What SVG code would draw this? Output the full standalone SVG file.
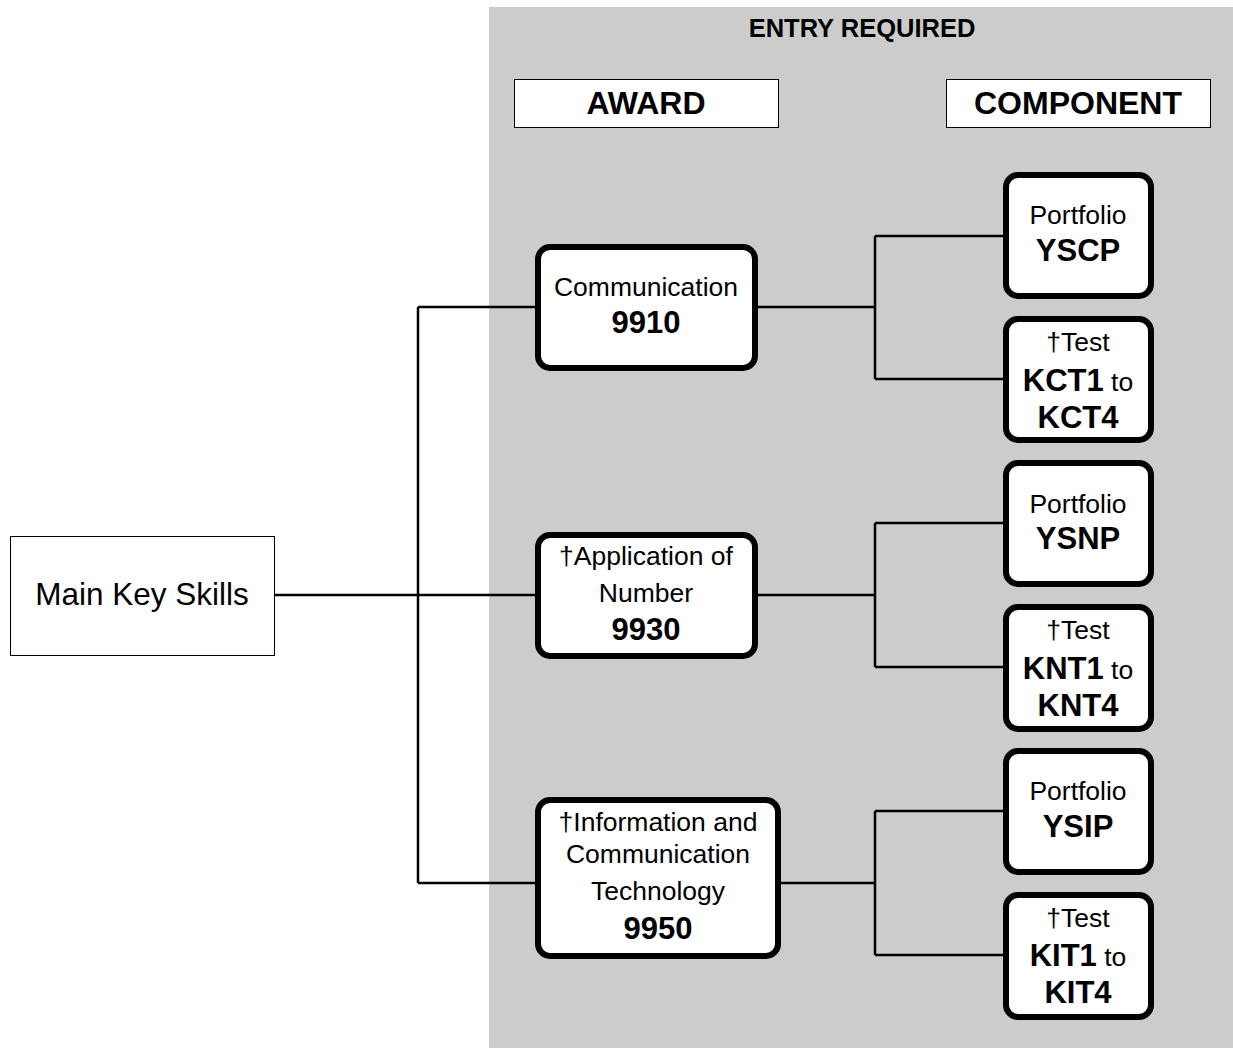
<svg xmlns="http://www.w3.org/2000/svg" width="1233" height="1048" viewBox="0 0 1233 1048">
<style>
.t{font-family:"Liberation Sans",Arial,sans-serif;font-size:26.5px;fill:#000;text-anchor:middle}
.b{font-weight:bold;font-size:31px}
.hd{font-family:"Liberation Sans",Arial,sans-serif;font-weight:bold;font-size:32px;text-anchor:middle}
.node{fill:#fff;stroke:#000;stroke-width:6}
.hdr{fill:#fff;stroke:#000;stroke-width:1}
.ln{fill:none;stroke:#000;stroke-width:2.5}
</style>
<rect x="489" y="7" width="744" height="1041" fill="#cccccc"/>
<text x="862" y="37" class="hd" style="font-size:25.5px">ENTRY REQUIRED</text>
<g id="award-header"><rect class="hdr" x="514.5" y="79.5" width="264" height="48"/><text x="646" y="114" class="hd">AWARD</text></g>
<g id="component-header"><rect class="hdr" x="946.5" y="79.5" width="264" height="48"/><text x="1078" y="114" class="hd">COMPONENT</text></g>
<g id="connectors">
<path class="ln" d="M274 595H536M418 307V883M418 307H536M418 883H536"/>
<path class="ln" d="M756 307H875M875 236V379M875 236H1005M875 379H1005"/>
<path class="ln" d="M756 595H875M875 523V667M875 523H1005M875 667H1005"/>
<path class="ln" d="M779 883H875M875 811V955M875 811H1005M875 955H1005"/>
</g>
<g id="main"><rect x="10.5" y="536.5" width="264" height="119" fill="#fff" stroke="#000" stroke-width="1"/><text x="142" y="605" class="t" style="font-size:31.5px">Main Key Skills</text></g>
<g id="comm"><rect class="node" x="538" y="247" width="217" height="121" rx="12"/><text x="646" y="296" class="t">Communication</text><text x="646" y="333" class="t b">9910</text></g>
<g id="aon"><rect class="node" x="538" y="535" width="217" height="121" rx="12"/><text x="646" y="565" class="t">†Application of</text><text x="646" y="602" class="t">Number</text><text x="646" y="640" class="t b">9930</text></g>
<g id="ict"><rect class="node" x="538" y="800" width="240" height="156" rx="12"/><text x="658" y="831" class="t">†Information and</text><text x="658" y="863" class="t">Communication</text><text x="658" y="900" class="t">Technology</text><text x="658" y="939" class="t b">9950</text></g>
<g id="yscp"><rect class="node" x="1006" y="175" width="145" height="121" rx="12"/><text x="1078" y="224" class="t">Portfolio</text><text x="1078" y="261" class="t b">YSCP</text></g>
<g id="kct"><rect class="node" x="1006" y="319" width="145" height="121" rx="12"/><text x="1078" y="351" class="t">†Test</text><text x="1078" y="391" class="t"><tspan class="b">KCT1</tspan> to</text><text x="1078" y="428" class="t b">KCT4</text></g>
<g id="ysnp"><rect class="node" x="1006" y="463" width="145" height="121" rx="12"/><text x="1078" y="513" class="t">Portfolio</text><text x="1078" y="549" class="t b">YSNP</text></g>
<g id="knt"><rect class="node" x="1006" y="607" width="145" height="122" rx="12"/><text x="1078" y="639" class="t">†Test</text><text x="1078" y="679" class="t"><tspan class="b">KNT1</tspan> to</text><text x="1078" y="716" class="t b">KNT4</text></g>
<g id="ysip"><rect class="node" x="1006" y="751" width="145" height="121" rx="12"/><text x="1078" y="800" class="t">Portfolio</text><text x="1078" y="837" class="t b">YSIP</text></g>
<g id="kit"><rect class="node" x="1006" y="895" width="145" height="122" rx="12"/><text x="1078" y="927" class="t">†Test</text><text x="1078" y="966" class="t"><tspan class="b">KIT1</tspan> to</text><text x="1078" y="1003" class="t b">KIT4</text></g>
</svg>
